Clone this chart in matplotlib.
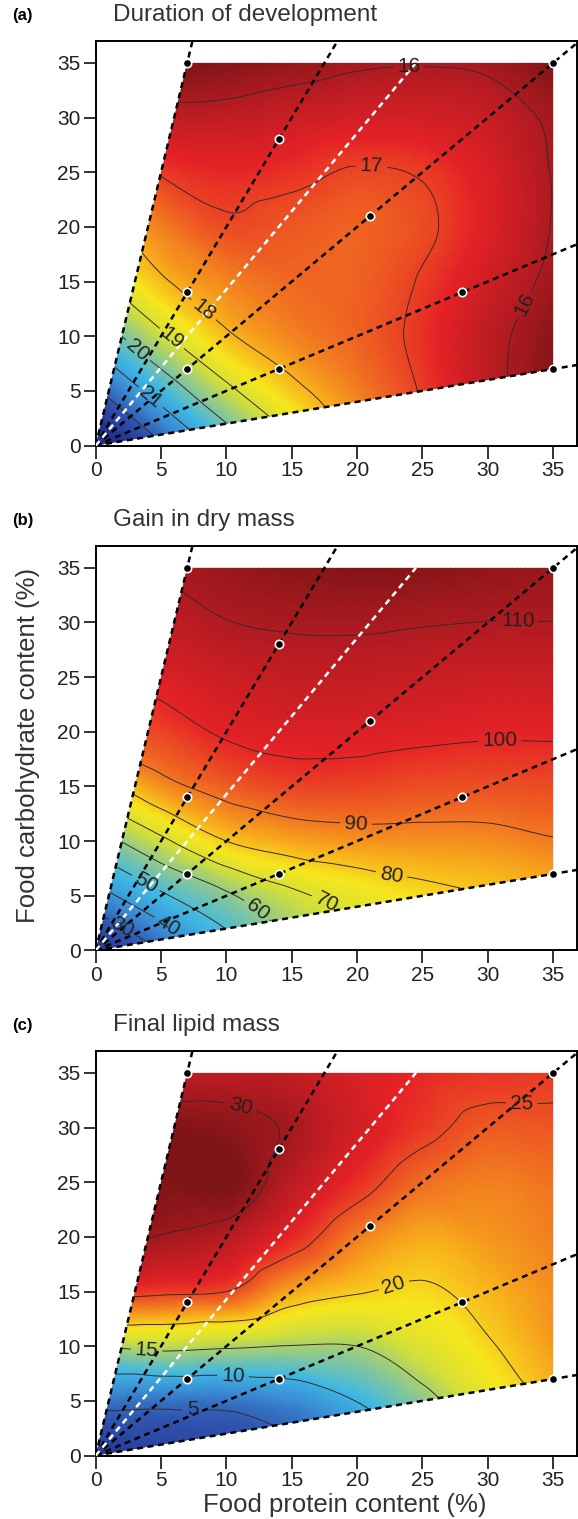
# response surfaces: development time, dry mass gain and lipid mass vs diet protein / carbohydrate
import numpy as np
import matplotlib
matplotlib.use("Agg")
import matplotlib.pyplot as plt
import matplotlib.tri as mtri
from matplotlib.colors import LinearSegmentedColormap
from matplotlib.patches import Polygon

plt.rcParams['font.family'] = ['Liberation Sans', 'DejaVu Sans']

# grid of the fitted surfaces (protein % along x, carbohydrate % along y)
grid_protein = [0, 5, 10, 15, 20, 25, 30, 35]
grid_carb = [0, 5, 10, 15, 20, 25, 30, 35]

# duration of development (days), one row per carbohydrate level
duration = [
    [23.8, 22.1, 20.6, 19.2, 18.0, 17.1, 16.3, 15.6],
    [22.1, 20.6, 19.2, 18.2, 17.55, 16.95, 16.2, 15.6],
    [20.6, 19.15, 18.1, 17.6, 17.3, 16.85, 16.2, 15.65],
    [19.2, 18.1, 17.6, 17.35, 17.3, 16.95, 16.4, 15.85],
    [18.3, 17.55, 17.1, 17.2, 17.3, 17.1, 16.6, 15.97],
    [17.6, 16.95, 16.75, 16.85, 17.05, 16.95, 16.55, 15.97],
    [16.8, 16.25, 16.2, 16.35, 16.45, 16.45, 16.3, 15.9],
    [15.6, 15.5, 15.6, 15.75, 15.92, 15.97, 15.9, 15.55],
]

# gain in dry mass (mg)
gain = [
    [15, 30, 45, 58, 67, 73, 77, 80],
    [36, 48.5, 58.5, 68, 73.5, 77.5, 80, 82.5],
    [55, 68, 80, 84.5, 86.5, 87, 87.5, 89.5],
    [75, 87.1, 93, 96.2, 96.4, 95.2, 94.8, 95.4],
    [92, 96.3, 101, 102.6, 102.5, 101.6, 100.9, 100.9],
    [99, 102.3, 105.3, 106.7, 106.8, 106.1, 105.3, 105.4],
    [104, 107, 109.8, 110.8, 111, 110.4, 109.9, 109.9],
    [108, 110.5, 113, 115, 116, 115.5, 114, 113],
]

# final lipid mass (mg)
lipid = [
    [1.0, 2.0, 2.5, 4.0, 6.0, 10.0, 14.0, 17.0],
    [6.0, 5.9, 6.0, 7.2, 10.1, 13.8, 17.8, 20.5],
    [15.0, 15.9, 15.4, 14.9, 15.0, 17.5, 19.7, 22.0],
    [26.0, 25.5, 25.0, 21.6, 20.2, 19.6, 21.0, 22.5],
    [31.0, 29.9, 29.0, 26.3, 23.1, 21.5, 22.2, 23.0],
    [32.0, 31.2, 31.5, 28.8, 26.0, 23.7, 23.0, 23.5],
    [31.0, 31.2, 30.8, 29.7, 27.5, 25.6, 24.4, 24.5],
    [28.0, 28.5, 28.8, 28.5, 27.2, 26.3, 25.8, 25.6],
]

# diet rails (carb:protein slopes) and the diets themselves
rail_slopes = [5, 2, 1, 0.5, 0.2]
white_rail = 10 / 7
diet_protein = [7, 14, 21, 28, 35, 35, 7, 7, 14]
diet_carb = [35, 28, 21, 14, 7, 35, 14, 7, 7]

titles = ["Duration of development", "Gain in dry mass", "Final lipid mass"]
letters = ["(a)", "(b)", "(c)"]
levels = [[16, 17, 18, 19, 20, 21, 22],
          [30, 40, 50, 60, 70, 80, 90, 100, 110],
          [5, 10, 15, 20, 25, 30]]
label_pos = [
    [(24, 34.6), (32.6, 13.1), (21.1, 25.6), (8.3, 12.5), (5.9, 9.9), (3.0, 8.4), (4.2, 4.4)],
    [(32.3, 30.5), (30.9, 19.1), (19.9, 11.3), (22.6, 6.7), (17.6, 4.3), (12.4, 3.8),
     (3.8, 6.1), (5.7, 2.6), (2.2, 2.4)],
    [(11, 31.5), (32.6, 32.8), (22.6, 16.5), (3.9, 9.6), (10.5, 7.2), (7.4, 4.4)],
]
vranges = [(15.5, 23.0), (15, 117), (0.5, 31.5)]

cmap = LinearSegmentedColormap.from_list("surf", [
    (0.00, "#263090"), (0.12, "#2f55b0"), (0.22, "#3a8fd5"), (0.32, "#3fb8e4"),
    (0.42, "#86c79a"), (0.52, "#d2df3a"), (0.60, "#f6e71d"), (0.68, "#f7a81c"),
    (0.76, "#ef6322"), (0.84, "#e52226"), (0.92, "#b81c22"), (1.00, "#7d1416")])

# triangulation of the grid
X, Y = np.meshgrid(grid_protein, grid_carb)
nx = len(grid_protein)
tris = []
for j in range(len(grid_carb) - 1):
    for i in range(nx - 1):
        a = j * nx + i
        tris.append([a, a + 1, a + nx])
        tris.append([a + 1, a + nx + 1, a + nx])
tri = mtri.Triangulation(X.ravel(), Y.ravel(), np.array(tris))
refiner = mtri.UniformTriRefiner(tri)

fig = plt.figure(figsize=(5.78, 15.19), dpi=100)
bottoms = [0.7067, 0.3743, 0.0418]

for k, z in enumerate([duration, gain, lipid]):
    ax = fig.add_axes([0.1656, bottoms[k], 0.8322, 0.2663])
    zz = np.array(z, dtype=float).ravel()
    interp = mtri.CubicTriInterpolator(tri, zz, kind="geom")
    tri_f, z_f = refiner.refine_field(zz, triinterpolator=interp, subdiv=4)

    wedge = Polygon([(0, 0), (7, 35), (35, 35), (35, 7)], transform=ax.transData)
    cm = cmap.reversed() if k == 0 else cmap
    pc = ax.tripcolor(tri_f, z_f, shading="gouraud", cmap=cm,
                      vmin=vranges[k][0], vmax=vranges[k][1], zorder=1)
    pc.set_clip_path(wedge)

    cs = ax.tricontour(tri_f, z_f, levels=levels[k], colors="#3a2a2a",
                       linewidths=0.7, zorder=2)
    cs.set_clip_path(wedge)
    ax.clabel(cs, inline=True, fontsize=15, fmt="%d", manual=label_pos[k],
              colors="#222222")

    for s in rail_slopes:
        ax.plot([0, 60], [0, 60 * s], color="black", lw=1.8,
                linestyle=(0, (2.4, 1.8)), zorder=3)
    ax.plot([0, 35 / white_rail], [0, 35], color="white", lw=1.8,
            linestyle=(0, (2.4, 1.8)), zorder=3)
    ax.plot(diet_protein, diet_carb, "o", color="black", markersize=6,
            markeredgecolor="white", markeredgewidth=1.2, zorder=4)

    ax.set_xlim(0, 36.8)
    ax.set_ylim(0, 37)
    ax.set_xticks(range(0, 40, 5))
    ax.set_yticks(range(0, 40, 5))
    ax.tick_params(direction="out", length=9, width=1.3, labelsize=15, pad=2,
                   colors="#222222")
    for sp in ax.spines.values():
        sp.set_linewidth(1.4)

    ax.text(-0.174, 1.064, letters[k], transform=ax.transAxes, fontsize=12,
            fontweight="bold", va="center", ha="left")
    ax.text(0.036, 1.064, titles[k], transform=ax.transAxes, fontsize=17.5,
            color="#333333", va="center", ha="left")

fig.text(0.048, 0.5095, "Food carbohydrate content (%)", rotation=90,
         fontsize=18.5, color="#333333", va="center", ha="center")
fig.text(0.597, 0.0092, "Food protein content (%)", fontsize=18.5,
         color="#333333", va="center", ha="center")

fig.savefig("out.png", dpi=100)
